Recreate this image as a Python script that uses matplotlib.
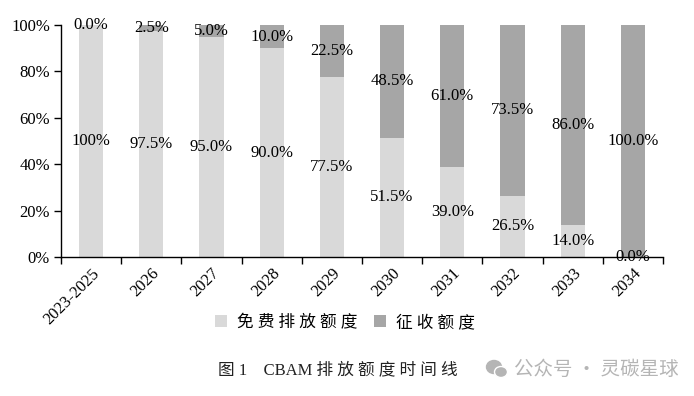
import matplotlib
matplotlib.use("Agg")
import matplotlib.pyplot as plt
from matplotlib.patches import Ellipse
import numpy as np

categories = ["2023-2025", "2026", "2027", "2028", "2029", "2030", "2031", "2032", "2033", "2034"]
free_pct = [100, 97.5, 95.0, 90.0, 77.5, 51.5, 39.0, 26.5, 14.0, 0.0]
levy_pct = [0.0, 2.5, 5.0, 10.0, 22.5, 48.5, 61.0, 73.5, 86.0, 100.0]
free_labels = ["100%", "97.5%", "95.0%", "90.0%", "77.5%", "51.5%", "39.0%", "26.5%", "14.0%", "0.0%"]
levy_labels = ["0.0%", "2.5%", "5.0%", "10.0%", "22.5%", "48.5%", "61.0%", "73.5%", "86.0%", "100.0%"]
series_names = ["免 费 排 放 额 度", "征 收 额 度"]
yticks = [0, 20, 40, 60, 80, 100]

SERIF = ["Liberation Serif", "DejaVu Serif"]
CJK = ["Liberation Serif", "Noto Sans CJK SC"]

fig = plt.figure(figsize=(6.94, 3.96), dpi=100)
ax = fig.add_axes([61/694, 1-257/396, (663-61)/694, (257-25)/396])

c_free = "#d9d9d9"
c_levy = "#a6a6a6"
x = np.arange(len(categories))
w = 0.4
ax.bar(x, free_pct, w, color=c_free, label=series_names[0], zorder=2)
ax.bar(x, levy_pct, w, bottom=free_pct, color=c_levy, label=series_names[1], zorder=2)

for i in range(len(categories)):
    ax.text(x[i], free_pct[i]/2, free_labels[i], ha="center", va="center",
            fontsize=12, family=SERIF, zorder=3)
    ax.text(x[i], free_pct[i] + levy_pct[i]/2, levy_labels[i], ha="center", va="center",
            fontsize=12, family=SERIF, zorder=3)

ax.set_xlim(-0.5, len(categories) - 0.5)
ax.set_ylim(0, 100)
ax.set_yticks(yticks)
ax.set_yticklabels([f"{v}%" for v in yticks], family=SERIF, fontsize=12)
ax.set_xticks(x)
ax.set_xticklabels(categories, rotation=45, ha="right", va="top",
                   rotation_mode="anchor", family=SERIF, fontsize=12)
ax.tick_params(axis="x", which="major", length=0, pad=6)
ax.set_xticks(np.arange(-0.5, len(categories)), minor=True)
ax.tick_params(axis="x", which="minor", length=5, width=1, direction="out")
ax.tick_params(axis="y", length=5, width=1, direction="out", pad=3)
for s in ["top", "right"]:
    ax.spines[s].set_visible(False)
for s in ["left", "bottom"]:
    ax.spines[s].set_linewidth(1.0)
    ax.spines[s].set_color("black")

leg = fig.legend(loc="center", bbox_to_anchor=(345/694, 1-323/396), ncol=2, frameon=False,
                 prop={"family": CJK, "size": 12}, handlelength=0.7, handleheight=0.7,
                 handletextpad=0.6, columnspacing=1.0)

fig.text(218/694, 1-370/396, "图 1    CBAM 排 放 额 度 时 间 线", ha="left", va="center",
         fontsize=12, family=CJK, color="#222222")

# watermark
fig.text(514/694, 1-369/396, "公众号 · 灵碳星球", ha="left", va="center",
         fontsize=14, family=["Noto Sans CJK SC"], color="#b5b5b5")
wax = fig.add_axes([484/694, 1-382/396, 26/694, 26/396])
wax.set_xlim(0, 26); wax.set_ylim(0, 26); wax.axis("off")
wax.add_patch(Ellipse((10, 15), 15, 13, color="#b5b5b5"))
wax.add_patch(Ellipse((17, 10), 13, 11, color="#b5b5b5", ec="white", lw=1))

fig.savefig("out.png", dpi=100)
